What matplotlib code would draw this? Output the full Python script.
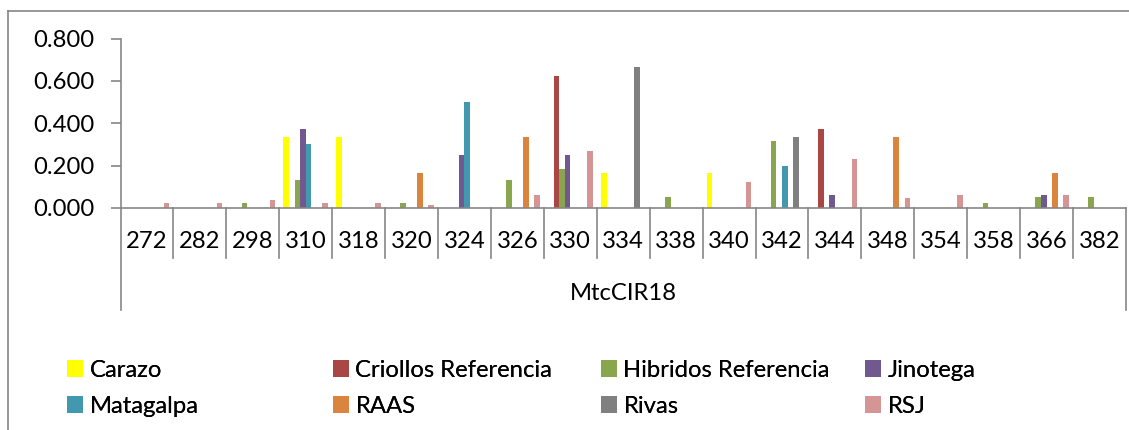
import matplotlib

matplotlib.use("Agg")
import matplotlib.pyplot as plt
import numpy as np
from matplotlib.lines import Line2D
from matplotlib.patches import Patch
from matplotlib.ticker import FormatStrFormatter
from matplotlib.transforms import blended_transform_factory

# allele sizes (bp) for marker MtcCIR18
alleles = ["272", "282", "298", "310", "318", "320", "324", "326", "330", "334",
           "338", "340", "342", "344", "348", "354", "358", "366", "382"]
marker = "MtcCIR18"

# allele frequencies per population, same order as alleles
carazo = [0, 0, 0, 0.333, 0.333, 0, 0, 0, 0, 0.167, 0, 0.167, 0, 0, 0, 0, 0, 0, 0]
criollos = [0, 0, 0, 0, 0, 0, 0, 0, 0.625, 0, 0, 0, 0, 0.375, 0, 0, 0, 0, 0]
hibridos = [0, 0, 0.025, 0.132, 0, 0.025, 0, 0.132, 0.184, 0, 0.05, 0, 0.316, 0, 0, 0, 0.025, 0.05, 0.05]
jinotega = [0, 0, 0, 0.375, 0, 0, 0.25, 0, 0.25, 0, 0, 0, 0, 0.063, 0, 0, 0, 0.063, 0]
matagalpa = [0, 0, 0, 0.3, 0, 0, 0.5, 0, 0, 0, 0, 0, 0.2, 0, 0, 0, 0, 0, 0]
raas = [0, 0, 0, 0, 0, 0.167, 0, 0.333, 0, 0, 0, 0, 0, 0, 0.333, 0, 0, 0.167, 0]
rivas = [0, 0, 0, 0, 0, 0, 0, 0, 0, 0.667, 0, 0, 0.333, 0, 0, 0, 0, 0, 0]
rsj = [0.024, 0.024, 0.037, 0.024, 0.024, 0.012, 0, 0.061, 0.268, 0, 0, 0.122, 0, 0.232, 0.049, 0.061, 0, 0.061, 0]

series_names = ["Carazo", "Criollos Referencia", "Hibridos Referencia", "Jinotega",
                "Matagalpa", "RAAS", "Rivas", "RSJ"]
series_values = [carazo, criollos, hibridos, jinotega, matagalpa, raas, rivas, rsj]
series_colors = ["#FFFF00", "#AA4643", "#89A54E", "#71588F",
                 "#4198AF", "#DB843D", "#808080", "#D59594"]

W, H, DPI = 1129, 430, 100
AXIS_GRAY = "#868686"
FONT = 17.2


def fx(px):
    return px / W


def fy(py):
    return 1 - py / H


plt.rcParams["font.family"] = ["Lato", "DejaVu Sans"]

fig = plt.figure(figsize=(W / DPI, H / DPI), dpi=DPI)
fig.patch.set_facecolor("white")

# chart-area border (left and top edges are the visible ones)
fig.add_artist(Line2D([fx(7.5), fx(7.5)], [0, fy(10.5)], transform=fig.transFigure,
                      color=AXIS_GRAY, lw=1.2))
fig.add_artist(Line2D([fx(7.5), 1], [fy(10.5), fy(10.5)], transform=fig.transFigure,
                      color=AXIS_GRAY, lw=1.2))

left, right, top, base = 120.5, 1126, 38.5, 208
ax = fig.add_axes([fx(left), fy(base), fx(right) - fx(left), fy(top) - fy(base)])

x = np.arange(len(alleles))
n = len(series_names)
bw = 1 / (n + 1.5)
for k, (name, vals, col) in enumerate(zip(series_names, series_values, series_colors)):
    ax.bar(x + (k - (n - 1) / 2) * bw, vals, width=bw, color=col, linewidth=0, label=name)

ax.set_xlim(-0.5, len(alleles) - 0.5)
ax.set_ylim(0, 0.8)
ax.set_yticks(np.arange(0, 0.801, 0.2))
ax.yaxis.set_major_formatter(FormatStrFormatter("%.3f"))
ax.tick_params(axis="y", direction="out", length=7, width=1.2, color=AXIS_GRAY,
               labelsize=FONT, pad=12)
ax.set_xticks([])
for side in ("top", "right"):
    ax.spines[side].set_visible(False)
for side in ("left", "bottom"):
    ax.spines[side].set_color(AXIS_GRAY)
    ax.spines[side].set_linewidth(1.2)

# two-level category axis below the plot
trans = blended_transform_factory(ax.transData, fig.transFigure)
for i in range(len(alleles) + 1):
    y_end = 310 if i in (0, len(alleles)) else 258
    fig.add_artist(Line2D([i - 0.5, i - 0.5], [fy(base), fy(y_end)], transform=trans,
                          color=AXIS_GRAY, lw=1.2))
for i, lab in enumerate(alleles):
    fig.text(i, fy(241), lab, transform=trans, ha="center", va="center", fontsize=FONT)
fig.text(fx((left + right) / 2), fy(293), marker, ha="center", va="center", fontsize=FONT)

# legend laid out in four columns of two entries
handles = [Patch(facecolor=c, edgecolor="none") for c in series_colors]
col_x = [67, 333, 601, 865]
for j, cx in enumerate(col_x):
    idx = [j, j + 4]
    leg = fig.legend([handles[i] for i in idx], [series_names[i] for i in idx],
                     loc="upper left", bbox_to_anchor=(fx(cx), fy(360)),
                     bbox_transform=fig.transFigure, frameon=False, fontsize=FONT,
                     borderpad=0, borderaxespad=0, handlelength=0.66, handleheight=0.75,
                     handletextpad=0.28, labelspacing=0.62)
    fig.add_artist(leg)

fig.savefig("out.png", dpi=DPI)
